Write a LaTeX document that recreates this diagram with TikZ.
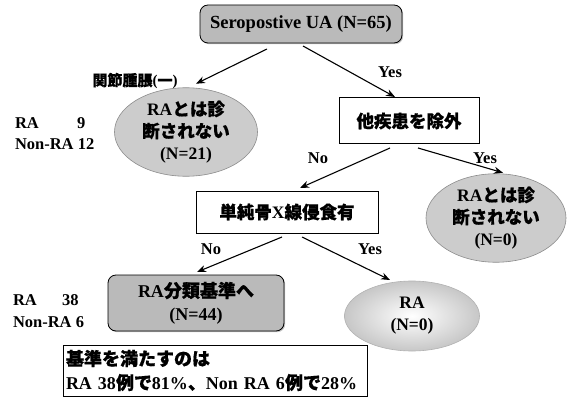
\documentclass[tikz,border=0pt]{standalone}
\usepackage{fontspec}
\setmainfont{Liberation Serif}
\newfontfamily\jpfont[FakeBold=0.7]{Noto Sans CJK JP}
\newcommand\jpt[1]{{\jpfont #1}}
\usetikzlibrary{shapes.geometric,arrows.meta,calc,shadows}
\begin{document}
\begin{tikzpicture}[x=1pt,y=-1pt,
  every node/.style={inner sep=0pt,outer sep=0pt},
  lab/.style={font=\fontsize{16.5}{19}\selectfont\bfseries},
  txt/.style={font=\fontsize{17.5}{22}\selectfont\bfseries,align=center},
  arr/.style={-{Stealth[length=9pt,width=7pt]},line width=1.1pt},
  gbox/.style={txt,draw,line width=0.8pt,rounded corners=8pt,fill=black!27,
     drop shadow={shadow xshift=1.2pt,shadow yshift=-1.2pt,fill=black!45}},
  wbox/.style={txt,draw,line width=1pt,fill=white},
  gell/.style={txt,ellipse,draw=black!45,line width=0.6pt,fill=black!20},
]
\useasboundingbox[fill=white] (0,0) rectangle (569,398);

% nodes
\node[gbox,minimum width=202,minimum height=38,font=\fontsize{18.5}{22}\selectfont\bfseries] (top) at (301,24)
  {Seropostive UA (N=65)};
\node[gell,minimum width=143,minimum height=70] (lell) at (186,132)
  {RA\jpt{とは診}\\\jpt{断されない}\\(N=21)};
\node[wbox,minimum width=140,minimum height=46] (excl) at (409,121)
  {\jpt{他疾患を除外}};
\node[gell,minimum width=140,minimum height=70] (rell) at (496,218)
  {RA\jpt{とは診}\\\jpt{断されない}\\(N=0)};
\node[wbox,minimum width=182,minimum height=42] (xray) at (287,212)
  {\jpt{単純骨}X\jpt{線侵食有}};
\node[gbox,minimum width=176,minimum height=56,font=\fontsize{18}{23}\selectfont\bfseries] (crit) at (196,303)
  {RA\jpt{分類基準へ}\\(N=44)};
\node[txt,ellipse,draw=black!30,line width=0.6pt,minimum width=135,minimum height=70,
  inner color=white,outer color=black!22] (raell) at (412,316)
  {RA\\(N=0)};
\node[draw,line width=0.8pt,minimum height=51,anchor=north west,
  align=left,font=\fontsize{18}{24}\selectfont\bfseries,text width=298,inner xsep=3pt] (res) at (63,345)
  {\jpt{基準を満たすのは}\\RA 38\jpt{例で}81\%\jpt{、}Non RA 6\jpt{例で}28\%};

% side labels
\node[lab,anchor=west] (ra1) at (15,123) {RA};
\node[lab,anchor=west] (ra1n) at (77,123) {9};
\node[lab,anchor=west] (nra1) at (15,144) {Non-RA 12};
\node[lab,anchor=west] (ra2) at (13,300) {RA};
\node[lab,anchor=west] (ra2n) at (62,300) {38};
\node[lab,anchor=west] (nra2) at (13,322) {Non-RA 6};

% connectors
\draw[arr] ($(top.south)+(-34,6)$) -- ($(lell.north)+(10,-4)$);
\draw[arr] ($(top.south)+(2,3)$) -- ($(excl.north)+(-14,-1)$);
\draw[arr] ($(excl.south)+(-19,4)$) -- ($(xray.north)+(13,-3)$);
\draw[arr] ($(excl.south)+(9,4)$) -- ($(rell.north)+(7,-1)$);
\draw[arr] ($(xray.south)+(-5,4)$) -- ($(crit.north)+(1,-3)$);
\draw[arr] ($(xray.south)+(15,4)$) -- ($(raell.north)+(-22,-1)$);

% branch labels
\node[font=\fontsize{15}{18}\selectfont\bfseries] (l1) at (135,81) {\jpt{関節腫脹}(\jpt{一})};
\node[lab] (l2) at (390,72) {Yes};
\node[lab] (l3) at (318,158) {No};
\node[lab] (l4) at (485,158) {Yes};
\node[lab] (l5) at (211,249) {No};
\node[lab] (l6) at (370,249) {Yes};
\end{tikzpicture}
\end{document}
